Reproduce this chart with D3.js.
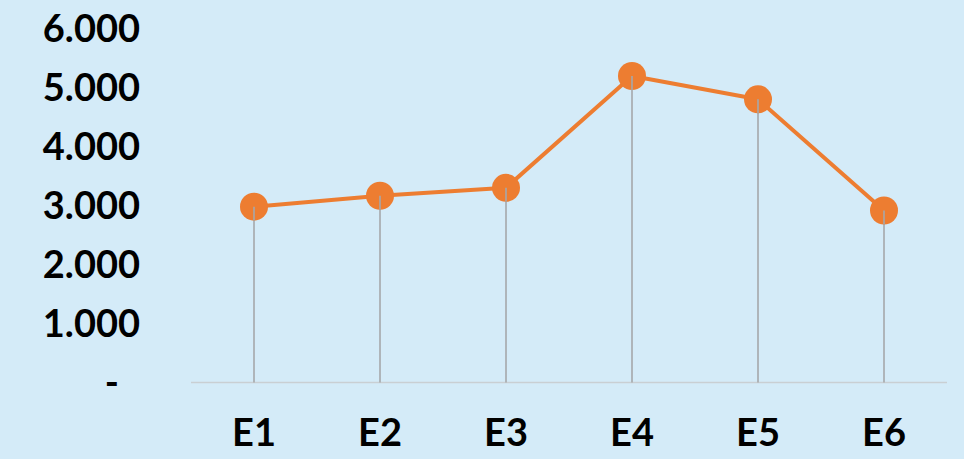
<!DOCTYPE html>
<html><head><meta charset="utf-8">
<script src="https://cdn.jsdelivr.net/npm/d3@7"></script>
<style>
html,body{margin:0;padding:0;background:#D4EBF8;}
svg{display:block;}
</style></head>
<body>
<script>
const categories = ["E1","E2","E3","E4","E5","E6"];
const values = [2980, 3165, 3300, 5195, 4800, 2915];
const yTicks = [0, 1000, 2000, 3000, 4000, 5000, 6000];

const W = 964, H = 459;
const svg = d3.select("body").append("svg").attr("width", W).attr("height", H);
svg.append("rect").attr("width", W).attr("height", H).attr("fill", "#D4EBF8");

const x = d3.scaleBand().domain(categories).range([191, 947]);
const y = d3.scaleLinear().domain([0, 6000]).range([382.5, 28.5]);
const cx = d => x(d) + x.bandwidth() / 2;

const font = "Lato, 'Open Sans', sans-serif";

// y axis labels
const yAxis = svg.append("g").attr("transform", "translate(140,0)")
  .call(d3.axisLeft(y).tickValues(yTicks).tickSize(0).tickPadding(0)
    .tickFormat(d => d === 0 ? "-" : d3.format(",")(d).replace(/,/g, ".") ));
yAxis.select(".domain").remove();
yAxis.selectAll("text").attr("font-family", font).attr("font-weight", 700)
  .attr("font-size", 38).attr("fill", "#000").attr("dy", "0.35em");
yAxis.selectAll(".tick").filter(d => d === 0).select("text").attr("dx", -21);

// x axis line
svg.append("line").attr("x1", 191).attr("x2", 947).attr("y1", y(0)).attr("y2", y(0))
  .attr("stroke", "#C9CFD3").attr("stroke-width", 1.5);

// x labels
const xAxis = svg.append("g").attr("transform", `translate(0,${y(0)})`)
  .call(d3.axisBottom(x).tickSize(0).tickPadding(0));
xAxis.select(".domain").remove();
xAxis.selectAll("text").attr("font-family", font).attr("font-weight", 700)
  .attr("font-size", 38).attr("fill", "#000").attr("dy", "0").attr("y", 54)
  .attr("dominant-baseline", "middle");

// drop lines
svg.append("g").selectAll("line").data(categories).join("line")
  .attr("x1", d => cx(d)).attr("x2", d => cx(d))
  .attr("y1", (d, i) => y(values[i])).attr("y2", y(0))
  .attr("stroke", "#A5A8AA").attr("stroke-width", 1.6);

// line
const line = d3.line().x((d, i) => cx(categories[i])).y(d => y(d));
svg.append("path").datum(values).attr("d", line).attr("fill", "none")
  .attr("stroke", "#ED7D31").attr("stroke-width", 4).attr("stroke-linejoin", "round");

// markers
svg.append("g").selectAll("circle").data(values).join("circle")
  .attr("cx", (d, i) => cx(categories[i])).attr("cy", d => y(d)).attr("r", 14)
  .attr("fill", "#ED7D31");

// drop lines over markers (visible in reference)
svg.append("g").selectAll("line").data(categories).join("line")
  .attr("x1", d => cx(d)).attr("x2", d => cx(d))
  .attr("y1", (d, i) => y(values[i])).attr("y2", (d, i) => y(values[i]) + 14)
  .attr("stroke", "#A5A8AA").attr("stroke-width", 1.6);
</script>
</body></html>
